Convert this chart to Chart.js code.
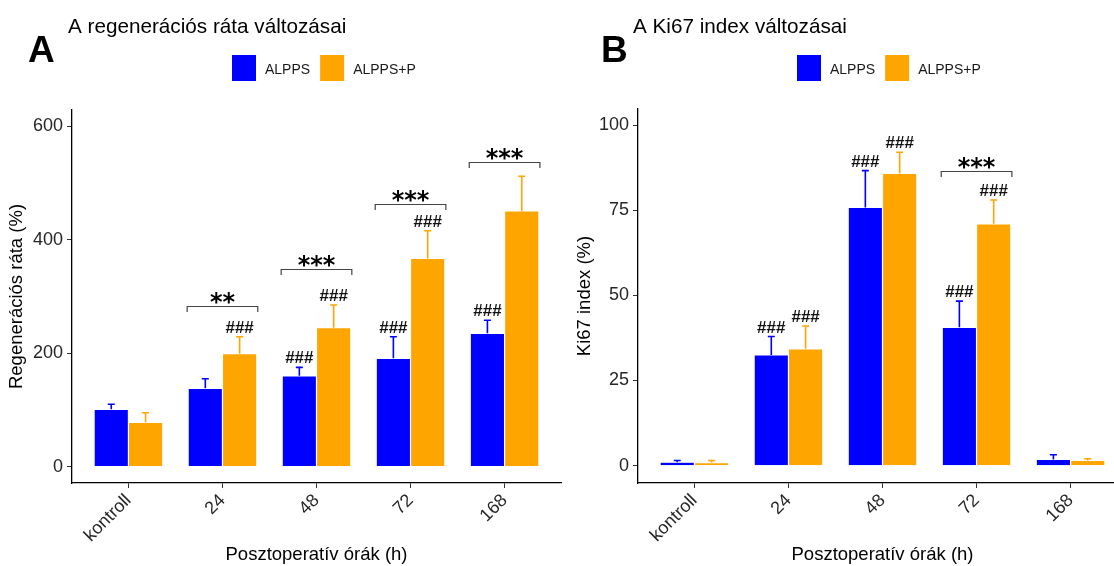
<!DOCTYPE html>
<html>
<head>
<meta charset="utf-8">
<script src="https://cdn.jsdelivr.net/npm/chart.js@4/dist/chart.umd.min.js"></script>
<style>
  html, body { margin: 0; padding: 0; background: #fff; overflow: hidden; }
  #wrap { position: relative; width: 1114px; height: 566px; overflow: hidden; background: #fff; }
  #cA { position: absolute; left: 0; top: 0; width: 575px; height: 566px; }
  #cB { position: absolute; left: 557px; top: 0; width: 580px; height: 566px; }
</style>
</head>
<body>
<div id="wrap">
  <canvas id="cA" width="575" height="566"></canvas>
  <canvas id="cB" width="580" height="566"></canvas>
</div>
<script>
// ---- data ----------------------------------------------------------------
const categories = ['kontroll', '24', '48', '72', '168'];
const seriesNames = ['ALPPS', 'ALPPS+P'];

// Panel A: regeneration rate (%), mean and upper SD
const regenALPPS    = [101, 138, 160, 191, 235];
const regenALPPSsd  = [9, 17, 15, 38, 23];
const regenALPPSP   = [78, 199, 245, 367, 451];
const regenALPPSPsd = [17, 30, 40, 49, 61];
const regenHashALPPS  = [false, false, true, true, true];
const regenHashALPPSP = [false, true, true, true, false];
const regenBrackets = [
  { cat: 1, y: 284, label: '**' },
  { cat: 2, y: 349, label: '***' },
  { cat: 3, y: 464, label: '***' },
  { cat: 4, y: 537, label: '***' }
];
const regenTicks = [0, 200, 400, 600];
const regenRange = [-29, 629];

// Panel B: Ki67 index (%), mean and upper SD
const ki67ALPPS    = [1.0, 32.5, 75.8, 40.6, 1.8];
const ki67ALPPSsd  = [0.5, 5.4, 10.8, 7.7, 1.4];
const ki67ALPPSP   = [0.9, 34.3, 85.8, 71.0, 1.5];
const ki67ALPPSPsd = [0.6, 6.7, 6.2, 7.0, 0.5];
const ki67HashALPPS  = [false, true, true, true, false];
const ki67HashALPPSP = [false, true, true, true, false];
const ki67Brackets = [
  { cat: 3, y: 86.6, label: '***' }
];
const ki67Ticks = [0, 25, 50, 75, 100];
const ki67Range = [-5.1, 104.7];

// ---- styling -------------------------------------------------------------
const BLUE = '#0000FF';
const ORANGE = '#FFA500';
const SANS = '"Liberation Sans", Arial, sans-serif';

// whiskers, significance marks and brackets
const annotate = {
  id: 'annotate',
  afterDatasetsDraw(chart) {
    const ctx = chart.ctx;
    const yScale = chart.scales.y;
    ctx.save();
    chart.data.datasets.forEach((ds, di) => {
      const meta = chart.getDatasetMeta(di);
      meta.data.forEach((bar, i) => {
        const v = ds.data[i].y;
        const yTop = yScale.getPixelForValue(v + ds.errors[i]);
        const yBar = yScale.getPixelForValue(v);
        ctx.strokeStyle = ds.backgroundColor;
        ctx.lineWidth = 1.6;
        ctx.beginPath();
        ctx.moveTo(bar.x, yBar);
        ctx.lineTo(bar.x, yTop);
        ctx.moveTo(bar.x - 3.5, yTop);
        ctx.lineTo(bar.x + 3.5, yTop);
        ctx.stroke();
        if (ds.marks[i]) {
          ctx.fillStyle = '#111';
          ctx.font = 'bold 17px ' + SANS;
          ctx.textAlign = 'center';
          ctx.textBaseline = 'alphabetic';
          ctx.fillText('###', bar.x, yTop - 4);
        }
      });
    });
    const m0 = chart.getDatasetMeta(0), m1 = chart.getDatasetMeta(1);
    (chart.options.plugins.annotate.brackets || []).forEach(b => {
      const b0 = m0.data[b.cat], b1 = m1.data[b.cat];
      const x1 = b0.x - b0.width / 2 - 1;
      const x2 = b1.x + b1.width / 2 + 1;
      const y = Math.round(yScale.getPixelForValue(b.y)) + 0.5;
      ctx.strokeStyle = '#444';
      ctx.lineWidth = 1.2;
      ctx.beginPath();
      ctx.moveTo(x1, y + 5.5);
      ctx.lineTo(x1, y);
      ctx.lineTo(x2, y);
      ctx.lineTo(x2, y + 5.5);
      ctx.stroke();
      ctx.fillStyle = '#000';
      ctx.font = 'bold 24px "DejaVu Sans", sans-serif';
      ctx.textAlign = 'center';
      ctx.textBaseline = 'alphabetic';
      const mt = ctx.measureText(b.label);
      ctx.fillText(b.label, (x1 + x2) / 2, y - 3 - mt.actualBoundingBoxDescent);
    });
    ctx.restore();
  }
};

// panel letter, title and legend
const header = {
  id: 'header',
  afterDraw(chart) {
    const o = chart.options.plugins.header;
    const ctx = chart.ctx;
    ctx.save();
    ctx.textAlign = 'left';
    ctx.textBaseline = 'alphabetic';
    ctx.fillStyle = '#000';
    ctx.font = 'bold 37px ' + SANS;
    ctx.fillText(o.letter, o.letterX, 62);
    ctx.font = '20.7px ' + SANS;
    ctx.fillText(o.title, o.titleX, 33);
    ctx.font = '14px ' + SANS;
    let x = o.legendX;
    chart.data.datasets.forEach(ds => {
      ctx.fillStyle = ds.backgroundColor;
      ctx.fillRect(x, 55, 24, 26);
      ctx.fillStyle = '#1a1a1a';
      ctx.fillText(ds.label, x + 33, 73.5);
      x += 33 + ctx.measureText(ds.label).width + 10;
    });
    ctx.restore();
  }
};

function buildChart(canvasId, cfg) {
  const axisGrid = {
    display: true, drawOnChartArea: false, drawTicks: true,
    tickLength: 5, color: '#333', lineWidth: 1, offset: false
  };
  const axisBorder = { display: true, color: '#000', width: 1.3 };
  return new Chart(document.getElementById(canvasId), {
    type: 'bar',
    data: {
      datasets: [
        { label: seriesNames[0], data: cfg.a.map((v, i) => ({ x: i, y: v })),
          backgroundColor: BLUE, errors: cfg.aErr, marks: cfg.aMarks },
        { label: seriesNames[1], data: cfg.b.map((v, i) => ({ x: i, y: v })),
          backgroundColor: ORANGE, errors: cfg.bErr, marks: cfg.bMarks }
      ]
    },
    options: {
      responsive: false,
      animation: false,
      layout: { padding: { left: 0, top: cfg.top, right: cfg.right, bottom: 0 } },
      datasets: { bar: { categoryPercentage: 0.73, barPercentage: 1.0,
                         borderWidth: { left: 0.6, right: 0.6, top: 0.6, bottom: 0 },
                         borderColor: 'rgba(255,255,255,0.75)' } },
      plugins: {
        legend: { display: false },
        tooltip: { enabled: false },
        header: cfg.header,
        annotate: { brackets: cfg.brackets }
      },
      scales: {
        x: {
          type: 'linear', min: -0.6, max: 4.6, offset: false,
          afterBuildTicks: s => { s.ticks = categories.map((_, i) => ({ value: i })); },
          ticks: {
            autoSkip: false, minRotation: 45, maxRotation: 45, padding: 2,
            color: '#262626', font: { family: SANS, size: 18 },
            callback: v => categories[v]
          },
          grid: axisGrid,
          border: axisBorder,
          title: { display: true, text: 'Posztoperatív órák (h)', color: '#000',
                   font: { family: SANS, size: 18.5 }, padding: { top: 0, bottom: 0 } },
          afterFit: s => { s.height = 83; }
        },
        y: {
          min: cfg.range[0], max: cfg.range[1],
          afterBuildTicks: s => { s.ticks = cfg.ticks.map(v => ({ value: v })); },
          ticks: { padding: 4, color: '#262626', font: { family: SANS, size: 18 } },
          grid: axisGrid,
          border: axisBorder,
          title: { display: true, text: cfg.yTitle, color: '#000',
                   font: { family: SANS, size: 18.5 }, padding: { top: cfg.yTitlePad, bottom: 0 } },
          afterFit: s => { s.width = cfg.yWidth; }
        }
      }
    },
    plugins: [annotate, header]
  });
}

buildChart('cA', {
  a: regenALPPS, aErr: regenALPPSsd, aMarks: regenHashALPPS,
  b: regenALPPSP, bErr: regenALPPSPsd, bMarks: regenHashALPPSP,
  brackets: regenBrackets, ticks: regenTicks, range: regenRange,
  yTitle: 'Regenerációs ráta (%)', yTitlePad: 6, yWidth: 72,
  top: 110, right: 14,
  header: { letter: 'A', letterX: 28, title: 'A regenerációs ráta változásai', titleX: 68, legendX: 232 }
});

buildChart('cB', {
  a: ki67ALPPS, aErr: ki67ALPPSsd, aMarks: ki67HashALPPS,
  b: ki67ALPPSP, bErr: ki67ALPPSPsd, bMarks: ki67HashALPPSP,
  brackets: ki67Brackets, ticks: ki67Ticks, range: ki67Range,
  yTitle: 'Ki67 index (%)', yTitlePad: 17, yWidth: 81,
  top: 109, right: 10,
  header: { letter: 'B', letterX: 44, title: 'A Ki67 index változásai', titleX: 76, legendX: 240 }
});
</script>
</body>
</html>
